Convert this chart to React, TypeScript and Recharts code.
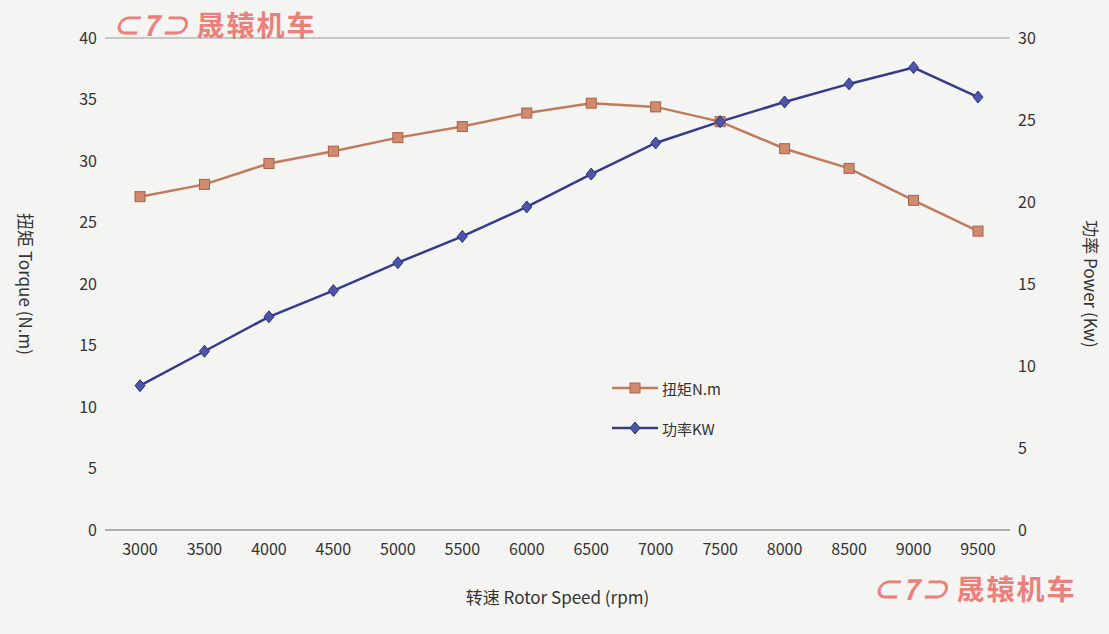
import React from "react";
import { ComposedChart, Line, XAxis, YAxis, CartesianGrid } from "recharts";

const speeds = ["3000","3500","4000","4500","5000","5500","6000","6500","7000","7500","8000","8500","9000","9500"];
const torque = [27.1,28.1,29.8,30.8,31.9,32.8,33.9,34.7,34.4,33.2,31.0,29.4,26.8,24.3];
const power = [8.8,10.9,13.0,14.6,16.3,17.9,19.7,21.7,23.6,24.9,26.1,27.2,28.2,26.4];
const leftTicks = [0,5,10,15,20,25,30,35,40];
const rightTicks = [0,5,10,15,20,25,30];

const data = speeds.map((s, i) => ({ s, t: torque[i], p: power[i] }));

const TC = "#c27a5e";
const PC = "#353c8c";
const font = "'Noto Sans CJK SC', 'Noto Sans', sans-serif";

const Square = (props: any) => {
  const { cx, cy } = props;
  return <rect x={cx - 5} y={cy - 5} width={10} height={10} fill="#d08a6c" stroke="#a8604a" strokeWidth={1} />;
};
const Diamond = (props: any) => {
  const { cx, cy } = props;
  return <path d={`M${cx},${cy - 6}L${cx + 5},${cy}L${cx},${cy + 6}L${cx - 5},${cy}Z`} fill="#4a56a8" stroke="#2c3280" strokeWidth={1} />;
};

const LegendBox = () => (
  <div style={{ position: "absolute", left: 612, top: 368, fontFamily: font, fontSize: 15, color: "#333" }}>
    {[{ c: TC, n: "扭矩N.m", sq: true }, { c: PC, n: "功率KW", sq: false }].map((e) => (
      <div key={e.n} style={{ display: "flex", alignItems: "center", height: 40 }}>
        <svg width={46} height={14}>
          <line x1={0} y1={7} x2={46} y2={7} stroke={e.c} strokeWidth={2.5} />
          {e.sq ? <rect x={18} y={2} width={10} height={10} fill="#d08a6c" stroke="#a8604a" /> :
            <path d="M23,1L28,7L23,13L18,7Z" fill="#4a56a8" stroke="#2c3280" />}
        </svg>
        <span style={{ marginLeft: 4 }}>{e.n}</span>
      </div>
    ))}
  </div>
);

const Watermark = ({ left, top }: { left: number; top: number }) => (
  <div style={{ position: "absolute", left, top, color: "#e8504a", fontFamily: font, fontSize: 28, fontWeight: 700, opacity: 0.7, letterSpacing: 2 }}>
    <span style={{ fontStyle: "italic", marginRight: 6 }}>⊂7⊃</span>晟辕机车
  </div>
);

export default function App() {
  const tick = { fill: "#333", fontSize: 16, fontFamily: font };
  return (
    <div style={{ position: "absolute", left: 0, top: 0, width: 1109, height: 634, background: "#f4f4f2" }}>
      <ComposedChart width={1109} height={634} data={data} margin={{ top: 38, right: 49, bottom: 74, left: 45 }}>
        <CartesianGrid vertical={false} stroke="#999" />
        <XAxis dataKey="s" tick={tick} tickLine={false} stroke="#999" tickMargin={8} height={30} padding={{ left: 35, right: 32 }}
          label={{ value: "转速 Rotor Speed (rpm)", position: "insideBottom", offset: -44, style: { fill: "#333", fontSize: 17, fontFamily: font } }} />
        <YAxis yAxisId="l" domain={[0, 40]} ticks={leftTicks} tick={tick} axisLine={false} tickLine={false} width={60}
          label={{ value: "扭矩 Torque (N.m)", angle: 90, position: "insideLeft", offset: -20, style: { fill: "#333", fontSize: 17, fontFamily: font, textAnchor: "middle" } }} />
        <YAxis yAxisId="r" orientation="right" domain={[0, 30]} ticks={rightTicks} tick={tick} axisLine={false} tickLine={false} width={50}
          label={{ value: "功率 Power (Kw)", angle: 90, position: "insideRight", offset: -30, style: { fill: "#333", fontSize: 17, fontFamily: font, textAnchor: "middle" } }} />
        <Line yAxisId="l" dataKey="t" name="扭矩N.m" stroke={TC} strokeWidth={2.5} dot={<Square />} isAnimationActive={false} />
        <Line yAxisId="r" dataKey="p" name="功率KW" stroke={PC} strokeWidth={2.5} dot={<Diamond />} isAnimationActive={false} />
      </ComposedChart>
      <LegendBox />
      <Watermark left={112} top={4} />
      <Watermark left={872} top={568} />
    </div>
  );
}
